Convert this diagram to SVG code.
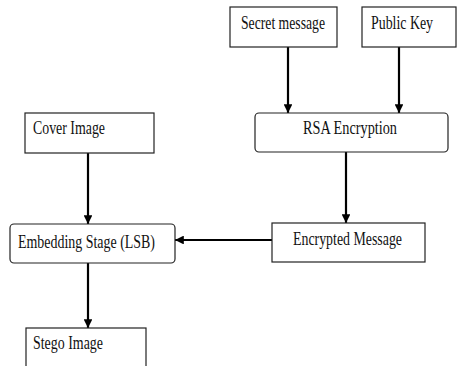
<svg xmlns="http://www.w3.org/2000/svg" width="457" height="366" viewBox="0 0 457 366">
<style>
.box{fill:#fff;stroke:#222;stroke-width:1.2}
.lbl{font-family:"Liberation Serif","Times New Roman",serif;font-size:18px;fill:#111}
.conn{stroke:#000;stroke-width:2.2;fill:none;marker-end:url(#ah)}
</style>
<defs>
<marker id="ah" viewBox="0 0 10 10" refX="10" refY="5" markerWidth="4" markerHeight="4" orient="auto" markerUnits="strokeWidth">
<path d="M0,0 L10,5 L0,10 z" fill="#000"/>
</marker>
</defs>
<rect width="457" height="366" fill="#fff"/>
<g id="connectors">
<line class="conn" x1="288" y1="47" x2="288" y2="113"/>
<line class="conn" x1="399" y1="47" x2="399" y2="113"/>
<line class="conn" x1="346" y1="152" x2="346" y2="223"/>
<line class="conn" x1="272" y1="240" x2="175" y2="240"/>
<line class="conn" x1="88" y1="153" x2="88" y2="224"/>
<line class="conn" x1="88" y1="263" x2="88" y2="328"/>
</g>
<g id="secret">
<rect class="box" x="230" y="7" width="107" height="40"/>
<text class="lbl" x="241" y="29" textLength="84" lengthAdjust="spacingAndGlyphs">Secret message</text>
</g>
<g id="pubkey">
<rect class="box" x="362" y="7" width="94" height="40"/>
<text class="lbl" x="371" y="29" textLength="62" lengthAdjust="spacingAndGlyphs">Public Key</text>
</g>
<g id="rsa">
<rect class="box" x="255" y="113" width="193" height="39" rx="4"/>
<text class="lbl" x="303" y="134" textLength="94" lengthAdjust="spacingAndGlyphs">RSA Encryption</text>
</g>
<g id="cover">
<rect class="box" x="25" y="113" width="129" height="40"/>
<text class="lbl" x="33" y="134" textLength="72" lengthAdjust="spacingAndGlyphs">Cover Image</text>
</g>
<g id="embed">
<rect class="box" x="10" y="224" width="165" height="39" rx="4"/>
<text class="lbl" x="18" y="248" textLength="137" lengthAdjust="spacingAndGlyphs">Embedding Stage (LSB)</text>
</g>
<g id="encmsg">
<rect class="box" x="272" y="223" width="153" height="39"/>
<text class="lbl" x="293" y="245" textLength="109" lengthAdjust="spacingAndGlyphs">Encrypted Message</text>
</g>
<g id="stego">
<rect class="box" x="26" y="328" width="120" height="45"/>
<text class="lbl" x="33" y="349" textLength="70" lengthAdjust="spacingAndGlyphs">Stego Image</text>
</g>
</svg>
